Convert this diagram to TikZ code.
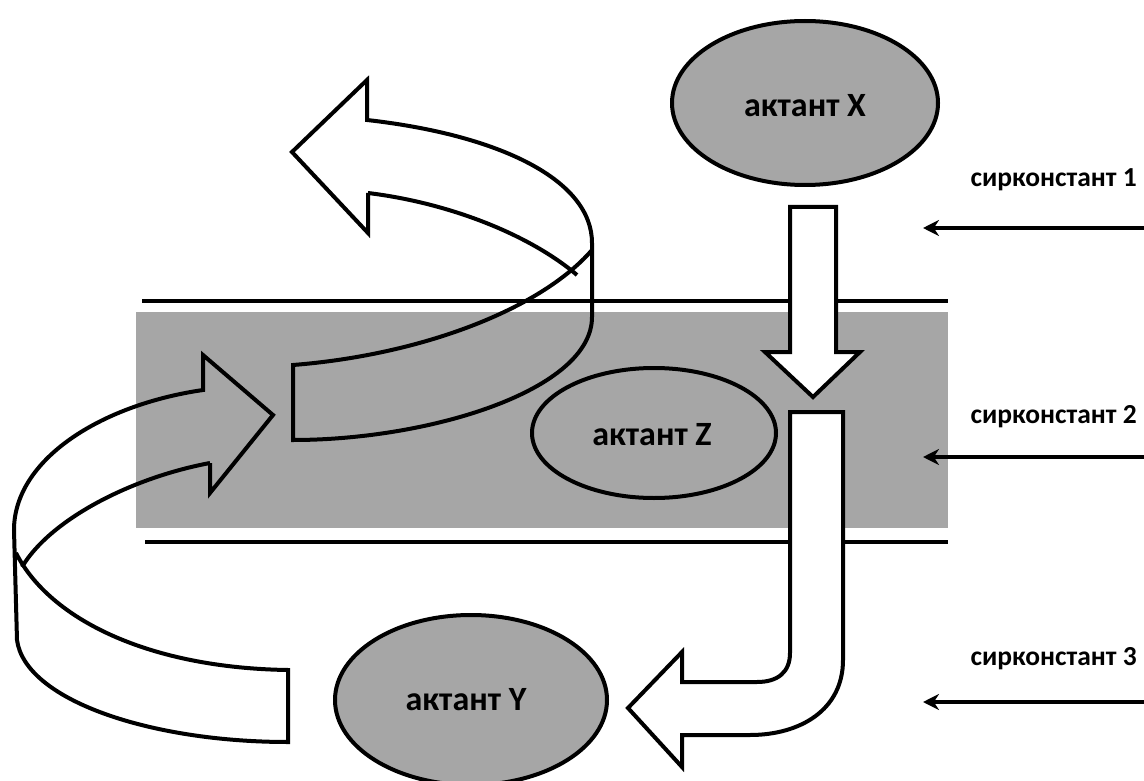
\documentclass[tikz,border=0pt]{standalone}
\usepackage{fontspec}
\setmainfont{Carlito}
\usetikzlibrary{arrows.meta,shapes.geometric}
\definecolor{bandgrey}{HTML}{A6A6A6}
\tikzset{
  x=1pt, y=-1pt,
  outline/.style={draw=black, line width=4pt, line join=miter},
  actant/.style={ellipse, draw=black, line width=4pt, fill=bandgrey, inner sep=0pt},
  actlabel/.style={anchor=base, inner sep=0pt, font=\bfseries\fontsize{34}{34}\selectfont},
  circ/.style={anchor=base east, inner sep=0pt, font=\bfseries\fontsize{27.5}{27.5}\selectfont},
  circarrow/.style={draw=black, line width=4pt, -{Stealth[length=16pt,width=16pt]}},
  bandline/.style={draw=black, line width=4.5pt},
}
\begin{document}
\begin{tikzpicture}
\useasboundingbox (0,0) rectangle (1144,781);
% band
\fill[bandgrey] (136,312) rectangle (948,528);
\coordinate (tl1) at (142,301); \coordinate (tl2) at (948,301);
\coordinate (bl1) at (145,542); \coordinate (bl2) at (948,542);
\draw[bandline] (tl1) -- (tl2);
\draw[bandline] (bl1) -- (bl2);
% actants
\node[actant, minimum width=266pt, minimum height=164pt] (X) at (805,103) {};
\node[actant, minimum width=244pt, minimum height=130pt] (Z) at (654,433) {};
\node[actant, minimum width=272pt, minimum height=170pt] (Y) at (471,700) {};
\node[actlabel] (Xt) at (805,117) {актант X};
\node[actlabel] (Zt) at (652,445) {актант Z};
\node[actlabel] (Yt) at (466,710) {актант Y};
% straight arrow X -> Z
\draw[outline, fill=white] (790,207) -- (836,207) -- (836,352) -- (860,352) -- (813,397) -- (765,352) -- (790,352) -- cycle;
% bent arrow to Y
\draw[outline, fill=white] (790,412) -- (790,653) .. controls (790,672) and (778,682) .. (757,682)
  -- (682,682) -- (682,652) -- (628,708) -- (682,767) -- (682,735) -- (750,735)
  .. controls (800,735) and (843,710) .. (843,660) -- (843,412) -- cycle;
% upper ribbon
\draw[outline] (368,193) -- (368,233) -- (292,152) -- (367,80) -- (367,120)
  .. controls (500,135) and (592,180) .. (592,243) -- (592,317)
  .. controls (592,390) and (430,440) .. (293,440) -- (293,365)
  .. controls (420,355) and (540,310) .. (592,250);
\draw[outline] (368,193) .. controls (450,203) and (530,235) .. (577,275);
% lower ribbon
\draw[outline] (210,463) -- (210,493) -- (273,415) -- (203,355) -- (203,390)
  .. controls (100,405) and (14,460) .. (14,530) -- (17,640)
  .. controls (25,700) and (150,742) .. (288,742) -- (288,670)
  .. controls (150,668) and (50,620) .. (16,553);
\draw[outline] (210,463) .. controls (130,478) and (50,520) .. (22,567);
% circonstants
\node[circ] (c1) at (1137,187) {сирконстант 1};
\node[circ] (c2) at (1137,423) {сирконстант 2};
\node[circ] (c3) at (1137,665) {сирконстант 3};
\coordinate (s1) at (1144,228); \coordinate (e1) at (923,228);
\coordinate (s2) at (1144,457); \coordinate (e2) at (923,457);
\coordinate (s3) at (1144,702); \coordinate (e3) at (923,702);
\draw[circarrow] (s1) -- (e1);
\draw[circarrow] (s2) -- (e2);
\draw[circarrow] (s3) -- (e3);
\end{tikzpicture}
\end{document}
